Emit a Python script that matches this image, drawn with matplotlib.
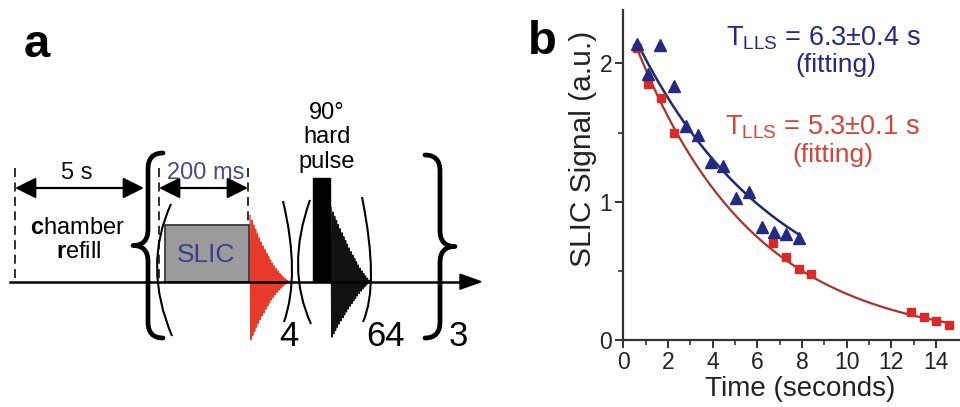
import numpy as np
import matplotlib
matplotlib.use("Agg")
import matplotlib.pyplot as plt
from matplotlib.path import Path
from matplotlib.patches import PathPatch, Rectangle, FancyArrowPatch

plt.rcParams['font.family'] = ['Liberation Sans', 'DejaVu Sans']
plt.rcParams['mathtext.fontset'] = 'custom'
plt.rcParams['mathtext.rm'] = 'Liberation Sans'
plt.rcParams['mathtext.bf'] = 'Liberation Sans:bold'
plt.rcParams['mathtext.it'] = 'Liberation Sans:italic'

# ---------------- data (panel b) ----------------
blue_t = [0.6, 1.12, 1.65, 2.27, 2.82, 3.36, 3.93, 4.48, 5.05, 5.62, 6.2, 6.74, 7.3, 7.86]
blue_s = [2.14, 1.92, 2.13, 1.84, 1.55, 1.48, 1.29, 1.26, 1.03, 1.07, 0.82, 0.78, 0.77, 0.74]
red_t = [0.6, 1.12, 1.67, 2.25, 6.72, 7.3, 7.88, 8.42, 12.9, 13.45, 14.0, 14.58]
red_s = [2.11, 1.85, 1.75, 1.50, 0.70, 0.60, 0.51, 0.48, 0.20, 0.165, 0.14, 0.11]
# fit parameters (amplitude, T_LLS, offset)
blue_fit = (2.24, 6.3, 0.12)
red_fit = (2.40, 5.3, -0.03)
x_ticks = [0, 2, 4, 6, 8, 10, 12, 14]
y_ticks = [0, 1, 2]
blue_label = r"$\mathrm{T}_{\mathrm{LLS}}$ = 6.3±0.4 s"
red_label = r"$\mathrm{T}_{\mathrm{LLS}}$ = 5.3±0.1 s"

NAVY = "#252a80"
RED = "#d92a28"

W, H = 960, 407
fig = plt.figure(figsize=(W / 100, H / 100), dpi=100)

# ---------------- panel b ----------------
x0_px, y0_px = 623.3, 340.0
sx, sy = 22.33, 138.3
ax = fig.add_axes([x0_px / W, 1 - y0_px / H, (W - x0_px) / W, (y0_px - 10) / H])
ax.set_xlim(0, (W - x0_px) / sx)
ax.set_ylim(0, (y0_px - 10) / sy)
for s in ['top', 'right']:
    ax.spines[s].set_visible(False)
for s in ['left', 'bottom']:
    ax.spines[s].set_linewidth(1.6)
    ax.spines[s].set_color('#333333')
ax.set_xticks(x_ticks)
ax.set_xticks(np.arange(1, 15, 2), minor=True)
ax.set_yticks(y_ticks)
ax.set_yticks([0.5, 1.5], minor=True)
ax.tick_params(which='major', direction='out', length=6, width=1.4, labelsize=16.5,
               colors='#333333', pad=2)
ax.tick_params(which='minor', direction='out', length=3.5, width=1.2, colors='#333333')
ax.tick_params(axis='x', labelcolor='#222222')
ax.tick_params(axis='y', labelcolor='#222222')

tb = np.linspace(blue_t[0], blue_t[-1], 200)
tr = np.linspace(red_t[0], red_t[-1], 300)
ax.plot(tr, red_fit[0] * np.exp(-tr / red_fit[1]) + red_fit[2], color='#a8352c', lw=1.6, zorder=2)
ax.plot(tb, blue_fit[0] * np.exp(-tb / blue_fit[1]) + blue_fit[2], color='#1f2a6e', lw=1.8, zorder=2)
ax.plot(red_t, red_s, 's', color=RED, markersize=6, zorder=3, clip_on=False)
ax.plot(blue_t, blue_s, '^', color=NAVY, markersize=8.5, zorder=4, clip_on=False)

ax.text(8.94, 2.18, blue_label, color=NAVY, fontsize=19.5, ha='center', va='center')
ax.text(9.5, 1.99, "(fitting)", color=NAVY, fontsize=19, ha='center', va='center')
ax.text(8.92, 1.54, red_label, color='#d2453a', fontsize=19.5, ha='center', va='center')
ax.text(9.39, 1.34, "(fitting)", color='#d2453a', fontsize=19, ha='center', va='center')

ax.set_xlabel("Time (seconds)", fontsize=20, color='#222222', labelpad=0)
ax.set_ylabel("SLIC Signal (a.u.)", fontsize=21.5, color='#222222')
ax.yaxis.set_label_coords(-0.077, 0.58)
ax.xaxis.set_label_coords(0.525, -0.11)

# ---------------- panel a (pixel-coordinate overlay) ----------------
ov = fig.add_axes([0, 0, 1, 1], zorder=-1)
ov.set_xlim(0, W)
ov.set_ylim(H, 0)
ov.axis('off')
ov.patch.set_alpha(0)

fig.text(37 / W, 1 - 45 / H, "a", fontsize=34, fontweight='bold', ha='center', va='center')
fig.text(542 / W, 1 - 42 / H, "b", fontsize=34, fontweight='bold', ha='center', va='center')

base = 281.7
# time axis with arrow
ov.plot([10, 466], [base, base], color='black', lw=1.8, zorder=5)
ov.add_patch(plt.Polygon([[460, base - 7.5], [481, base], [460, base + 7.5]], closed=True,
                         color='black', zorder=5))

# dashed guides
dash = dict(color='#222222', lw=1.3, ls=(0, (5, 3)))
ov.plot([15, 15], [168, base], **dash)
ov.plot([159, 159], [168, base], **dash)
ov.plot([248, 248], [168, 225], **dash)

# double arrows
for xa, xb in [(15, 144), (159, 248)]:
    ov.add_patch(FancyArrowPatch((xa, 188), (xb, 188), arrowstyle='<|-|>,head_length=8,head_width=4',
                                 mutation_scale=1.6, color='black', lw=1.6,
                                 shrinkA=0, shrinkB=0))
ov.text(77, 173, "5 s", fontsize=17, ha='center', va='center', color='#111111')
ov.text(206, 173, "200 ms", fontsize=17, ha='center', va='center', color='#474c85')

ov.text(77, 228, r"$\mathbf{c}$hamber", fontsize=17, ha='center', va='center')
ov.text(79, 252, r"$\mathbf{r}$efill", fontsize=17, ha='center', va='center')

# SLIC box
ov.add_patch(Rectangle((165, 224.5), 84, base - 224.5, facecolor='#9b9b9b',
                       edgecolor='#3a3a3a', lw=1.3, zorder=3))
ov.text(206, 255, "SLIC", fontsize=19, ha='center', va='center', color='#3a3f8c', zorder=4)


def fid(xs, xe, up, down, color, cycles, power):
    u = np.linspace(0, 1, 4000)
    env = (1 - u) ** power
    osc = np.cos(2 * np.pi * cycles * u)
    amp = np.where(osc >= 0, up, down)
    y = base - env * osc * amp
    ov.plot(xs + u * (xe - xs), y, color=color, lw=1.0, zorder=2)


fid(250, 291, 66, 60, '#e83a2a', 22, 1.6)
fid(331, 371, 74, 57, '#111111', 22, 1.3)

# hard pulse bar
ov.add_patch(Rectangle((313, 178), 17, base - 178, facecolor='black', edgecolor='black', zorder=4))
ov.text(327, 113, "90°", fontsize=17, ha='center', va='center')
ov.text(327, 137, "hard", fontsize=17, ha='center', va='center')
ov.text(327, 162, "pulse", fontsize=17, ha='center', va='center')


def paren(top, mid, bot, lw=1.5):
    ctrl = (2 * mid[0] - 0.5 * (top[0] + bot[0]), 2 * mid[1] - 0.5 * (top[1] + bot[1]))
    p = Path([top, ctrl, bot], [Path.MOVETO, Path.CURVE3, Path.CURVE3])
    ov.add_patch(PathPatch(p, fill=False, lw=lw, color='black', zorder=6))


paren((171, 204), (157, 268), (172, 336))
paren((283, 201), (292, 268), (284, 322))
paren((310, 200), (298, 265), (311, 324))
paren((362, 197), (371, 272), (363, 322))


def brace(xt, xb, xc, y0, y1, r=16, lw=3.4):
    ym = 0.5 * (y0 + y1)
    verts = [(xt, y0), (xb, y0), (xb, y0 + r),
             (xb, ym - r), (xb, ym), (xc, ym),
             (xb, ym), (xb, ym + r),
             (xb, y1 - r), (xb, y1), (xt, y1)]
    codes = [Path.MOVETO, Path.CURVE3, Path.CURVE3,
             Path.LINETO, Path.CURVE3, Path.CURVE3,
             Path.CURVE3, Path.CURVE3,
             Path.LINETO, Path.CURVE3, Path.CURVE3]
    ov.add_patch(PathPatch(Path(verts, codes), fill=False, lw=lw, color='black',
                           capstyle='round', joinstyle='round', zorder=6))


brace(163, 148, 133, 153, 338)
brace(425, 440, 455, 155, 338)

ov.text(289, 336, "4", fontsize=25, ha='center', va='center')
ov.text(386, 336, "64", fontsize=25, ha='center', va='center')
ov.text(458, 336, "3", fontsize=25, ha='center', va='center')

fig.savefig("out.png", dpi=100)
